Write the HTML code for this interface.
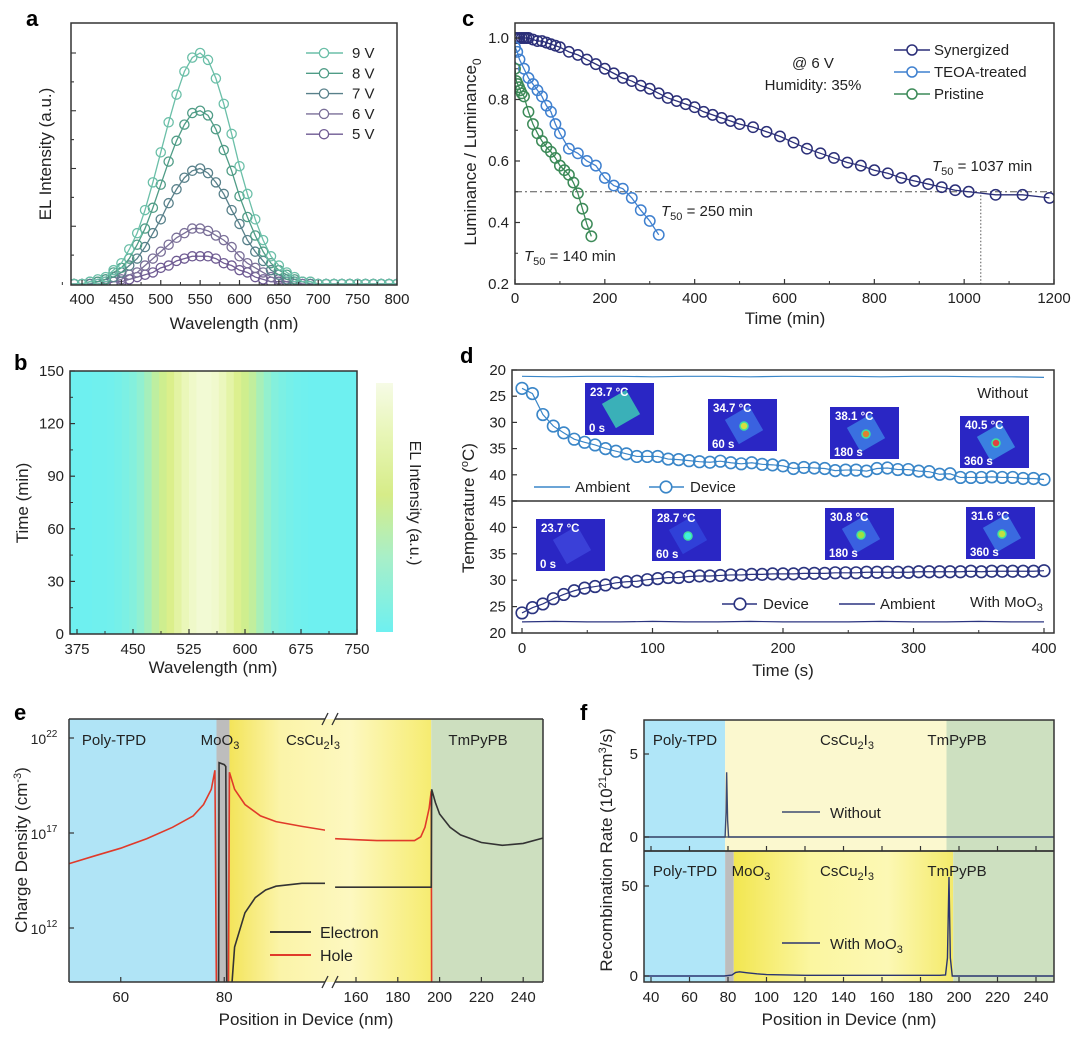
<!DOCTYPE html>
<html><head><meta charset="utf-8"><style>
html,body{margin:0;padding:0;background:#fff}
svg{display:block;font-family:"Liberation Sans",Arial,sans-serif}
</style></head><body>
<svg id="fig" width="1080" height="1038" viewBox="0 0 1080 1038" xmlns="http://www.w3.org/2000/svg">
<defs>
<clipPath id="clipA"><rect x="71" y="23" width="326" height="262"/></clipPath>
<clipPath id="clipC"><rect x="515" y="23" width="539" height="261"/></clipPath>
<clipPath id="clipEL"><rect x="69" y="719" width="256" height="263"/></clipPath>
<clipPath id="clipER"><rect x="335" y="719" width="208" height="263"/></clipPath>
<clipPath id="clipFT"><rect x="644" y="720" width="410" height="131"/></clipPath>
<clipPath id="clipFB"><rect x="644" y="851" width="410" height="131"/></clipPath>
<linearGradient id="eYellow" x1="0" x2="1" y1="0" y2="0">
<stop offset="0" stop-color="#f3e45a"/><stop offset="0.25" stop-color="#fbf4a8"/><stop offset="0.6" stop-color="#fdf8c0"/><stop offset="1" stop-color="#f6ec70"/></linearGradient>
<linearGradient id="fYellow" x1="0" x2="1" y1="0" y2="0">
<stop offset="0" stop-color="#f2e650"/><stop offset="0.35" stop-color="#fbf6a0"/><stop offset="0.7" stop-color="#fcf8b4"/><stop offset="1" stop-color="#f4ea6a"/></linearGradient>
<linearGradient id="cbar" x1="0" x2="0" y1="1" y2="0">
<stop offset="0" stop-color="#6ef0f0"/><stop offset="0.3" stop-color="#a8efc8"/><stop offset="0.55" stop-color="#d6ec88"/><stop offset="0.8" stop-color="#e8f6b8"/><stop offset="1" stop-color="#f6fbe6"/></linearGradient>
</defs>

<text x="26" y="26" font-size="22" font-weight="bold">a</text>
<text x="14" y="370" font-size="22" font-weight="bold">b</text>
<text x="462" y="26" font-size="22" font-weight="bold">c</text>
<text x="460" y="363" font-size="22" font-weight="bold">d</text>
<text x="14" y="720" font-size="22" font-weight="bold">e</text>
<text x="580" y="720" font-size="22" font-weight="bold">f</text>

<g id="pa">
<text x="234" y="329" font-size="17" text-anchor="middle" fill="#222">Wavelength (nm)</text>
<text transform="translate(51,154) rotate(-90)" font-size="17" text-anchor="middle" fill="#222">EL Intensity (a.u.)</text>
</g>
<g id="pb">
<text x="213" y="673" font-size="17" text-anchor="middle" fill="#222">Wavelength (nm)</text>
<text transform="translate(28,503) rotate(-90)" font-size="17" text-anchor="middle" fill="#222">Time (min)</text>
<rect x="376" y="383" width="17" height="249" fill="url(#cbar)"/>
<text transform="translate(410,503) rotate(90)" font-size="16" text-anchor="middle" fill="#222">EL Intensity (a.u.)</text>
<text x="347" y="624" font-size="15" text-anchor="end" fill="#222">@ 6 V</text>
</g>
<g id="pc">
<text x="785" y="324" font-size="17" text-anchor="middle" fill="#222">Time (min)</text>
<text transform="translate(476,152) rotate(-90)" font-size="17" text-anchor="middle" fill="#222">Luminance / Luminance<tspan font-size="12" dy="5">0</tspan></text>
<text x="813" y="68" font-size="15" text-anchor="middle" fill="#222">@ 6 V</text>
<text x="813" y="90" font-size="15" text-anchor="middle" fill="#222">Humidity: 35%</text>
<text x="932" y="171" font-size="15" fill="#222"><tspan font-style="italic">T</tspan><tspan font-size="11" dy="4">50</tspan><tspan dy="-4"> = 1037 min</tspan></text>
<text x="661" y="216" font-size="15" fill="#222"><tspan font-style="italic">T</tspan><tspan font-size="11" dy="4">50</tspan><tspan dy="-4"> = 250 min</tspan></text>
<text x="524" y="261" font-size="15" fill="#222"><tspan font-style="italic">T</tspan><tspan font-size="11" dy="4">50</tspan><tspan dy="-4"> = 140 min</tspan></text>
<text x="934" y="55" font-size="15" fill="#222">Synergized</text>
<text x="934" y="77" font-size="15" fill="#222">TEOA-treated</text>
<text x="934" y="99" font-size="15" fill="#222">Pristine</text>
</g>
<g id="pd">
<text x="783" y="676" font-size="17" text-anchor="middle" fill="#222">Time (s)</text>
<text transform="translate(474,508) rotate(-90)" font-size="17" text-anchor="middle" fill="#222">Temperature (<tspan font-size="11" dy="-6">o</tspan><tspan dy="6">C)</tspan></text>
<text x="1028" y="398" font-size="15" text-anchor="end" fill="#222">Without</text>
<text x="575" y="492" font-size="15" fill="#222">Ambient</text>
<text x="690" y="492" font-size="15" fill="#222">Device</text>
<text x="763" y="609" font-size="15" fill="#222">Device</text>
<text x="880" y="609" font-size="15" fill="#222">Ambient</text>
<text x="970" y="607" font-size="15" fill="#222">With MoO<tspan font-size="11" dy="4">3</tspan></text>
</g>
<g id="pe"></g>
<g id="pf"></g>
</svg>

<script>
// ---------- DATA ----------
const aWavelengths = [380,390,400,410,420,430,440,450,460,470,480,490,500,510,520,530,540,550,560,570,580,590,600,610,620,630,640,650,660,670,680,690,700,710,720,730,740,750,760,770,780,790,800];
const aSeriesLabels = ['9 V','8 V','7 V','6 V','5 V'];
const a9V = [0.00,0.00,0.00,0.01,0.02,0.03,0.06,0.09,0.15,0.22,0.32,0.44,0.57,0.70,0.82,0.92,0.98,1.00,0.97,0.89,0.78,0.65,0.51,0.39,0.28,0.19,0.12,0.08,0.05,0.03,0.01,0.01,0,0,0,0,0,0,0,0,0,0,0];
const a8V = [0,0,0,0.01,0.01,0.02,0.05,0.07,0.11,0.17,0.24,0.33,0.43,0.53,0.62,0.69,0.74,0.75,0.73,0.67,0.58,0.49,0.38,0.29,0.21,0.14,0.09,0.06,0.04,0.02,0.01,0.01,0,0,0,0,0,0,0,0,0,0,0];
const a7V = [0,0,0,0,0.01,0.02,0.03,0.05,0.08,0.11,0.16,0.22,0.28,0.35,0.41,0.46,0.49,0.50,0.48,0.44,0.39,0.32,0.26,0.19,0.14,0.10,0.06,0.04,0.02,0.01,0.01,0,0,0,0,0,0,0,0,0,0,0,0];
const a6V = [0,0,0,0,0,0.01,0.01,0.02,0.04,0.05,0.08,0.11,0.14,0.17,0.20,0.22,0.24,0.24,0.23,0.21,0.19,0.16,0.12,0.09,0.07,0.05,0.03,0.02,0.01,0.01,0,0,0,0,0,0,0,0,0,0,0,0,0];
const a5V = [0,0,0,0,0,0,0.01,0.01,0.02,0.03,0.04,0.05,0.07,0.08,0.10,0.11,0.12,0.12,0.12,0.11,0.09,0.08,0.06,0.05,0.03,0.02,0.01,0.01,0.01,0,0,0,0,0,0,0,0,0,0,0,0,0,0];
const aXTicks = [400,450,500,550,600,650,700,750,800];

const bWavelengths = [370,380,390,400,410,420,430,440,450,460,470,480,490,500,510,520,530,540,550,560,570,580,590,600,610,620,630,640,650,660,670,680,690,700,710,720,730,740,750];
const bIntensity = [0,0,0,0.01,0.01,0.02,0.04,0.07,0.11,0.17,0.25,0.35,0.47,0.59,0.72,0.84,0.93,0.99,0.99,0.95,0.86,0.74,0.61,0.48,0.37,0.26,0.18,0.11,0.07,0.04,0.02,0.01,0,0,0,0,0,0,0];
const bTimes = [0,30,60,90,120,150];
const bXTicks = [375,450,525,600,675,750];

const cSynT = [0,5,10,15,20,25,30,40,50,60,70,80,90,100,120,140,160,180,200,220,240,260,280,300,320,340,360,380,400,420,440,460,480,500,530,560,590,620,650,680,710,740,770,800,830,860,890,920,950,980,1010,1070,1130,1190];
const cSynV = [1,1,1,1,1,1,1,0.995,0.99,0.99,0.985,0.98,0.975,0.97,0.955,0.945,0.93,0.915,0.90,0.885,0.87,0.86,0.845,0.835,0.82,0.805,0.795,0.785,0.775,0.76,0.75,0.74,0.73,0.72,0.71,0.695,0.68,0.66,0.64,0.625,0.61,0.595,0.585,0.57,0.56,0.545,0.535,0.525,0.515,0.505,0.50,0.49,0.49,0.48];
const cTeoaT = [0,5,10,20,30,40,50,60,70,80,90,100,120,140,160,180,200,220,240,260,280,300,320];
const cTeoaV = [0.97,0.955,0.93,0.90,0.87,0.85,0.83,0.81,0.78,0.76,0.72,0.69,0.64,0.625,0.60,0.585,0.545,0.52,0.51,0.48,0.44,0.405,0.36];
const cPriT = [0,3,6,9,12,15,20,30,40,50,60,70,80,90,100,110,120,130,140,150,160,170];
const cPriV = [0.90,0.86,0.85,0.84,0.83,0.82,0.81,0.76,0.72,0.69,0.665,0.645,0.63,0.61,0.585,0.57,0.555,0.53,0.495,0.445,0.395,0.355];
const cT50Syn = 1037;
const cXTicks = [0,200,400,600,800,1000,1200];
const cYTicks = [0.2,0.4,0.6,0.8,1.0];

const dTimes = [0,8,16,24,32,40,48,56,64,72,80,88,96,104,112,120,128,136,144,152,160,168,176,184,192,200,208,216,224,232,240,248,256,264,272,280,288,296,304,312,320,328,336,344,352,360,368,376,384,392,400];
const dWithout = [23.5,24.5,28.5,30.7,32,33.2,33.8,34.3,35,35.5,36,36.5,36.5,36.5,37,37.1,37.3,37.5,37.6,37.4,37.7,37.9,37.7,38,38.1,38.3,38.8,38.6,38.7,38.8,39.2,39.1,39.1,39.3,38.8,38.7,39,39,39.3,39.4,39.9,39.8,40.5,40.5,40.5,40.4,40.5,40.5,40.7,40.7,40.9];
const dWithMoO3 = [23.8,24.8,25.5,26.5,27.3,28,28.5,28.8,29.1,29.5,29.7,29.8,30.1,30.3,30.5,30.5,30.7,30.8,30.8,30.9,31,31,31.1,31.1,31.2,31.2,31.2,31.3,31.3,31.3,31.4,31.4,31.4,31.5,31.5,31.5,31.5,31.5,31.6,31.6,31.6,31.6,31.6,31.7,31.6,31.7,31.7,31.7,31.7,31.7,31.8];
const dAmbT = [0,25,50,75,100,125,150,175,200,225,250,275,300,325,350,375,400];
const dAmbWithout = [21.2,21.3,21.2,21.2,21.3,21.2,21.2,21.3,21.2,21.2,21.2,21.3,21.2,21.2,21.3,21.3,21.4];
const dAmbWith = [22.1,22.2,22.1,22.1,22.2,22.1,22.1,22.2,22.1,22.1,22.1,22.2,22.1,22.1,22.2,22.1,22.1];
const dXTicks = [0,100,200,300,400];
const dYTicks = [20,25,30,35,40,45];

const eHoleLPos = [49,55,60,65,70,74,76,77.5,78.2,78.5,80.8,81.0,82,84,87,90,95,99.5];
const eHoleLLog = [15.3,15.8,16.2,16.7,17.3,17.9,18.5,19.3,20.3,8,8,20.2,19.3,18.5,17.9,17.6,17.35,17.15];
const eHoleRPos = [150,160,170,180,188,191,193,195,196,196.2];
const eHoleRLog = [16.7,16.65,16.6,16.6,16.6,16.8,17.3,18.3,19.2,8];
const eElecLPos = [78.9,79,80,80.3,80.5,81.2,82,84,86,88,90,95,99.5];
const eElecLLog = [8,20.7,20.6,20.5,8,8,11,12.8,13.6,14.0,14.2,14.35,14.35];
const eElecRPos = [150,196,196.2,198,200,205,210,220,230,240,250];
const eElecRLog = [14.15,14.15,19.3,18.6,18.0,17.3,16.9,16.5,16.35,16.45,16.75];
const eXTicksL = [60,80];
const eXTicksR = [160,180,200,220,240];
const eYTicks = [22,17,12];

const fTopPos = [36,78.5,79.0,79.3,79.8,80.3,249];
const fTopVal = [0,0,1.5,3.9,1.0,0,0];
const fBotPos = [36,78,82,84,86,90,95,100,120,190,193,194,194.8,195.5,196.5,249];
const fBotVal = [0,0,0.5,2.0,2.3,1.8,1.2,0.8,0.4,0.4,0.6,10,55,10,0,0];
const fXTicks = [40,60,80,100,120,140,160,180,200,220,240];

// ---------- HELPERS ----------
const NS = 'http://www.w3.org/2000/svg';
const svg = document.getElementById('fig');
function mk(tag, attrs, parent){
  const e = document.createElementNS(NS, tag);
  for (const k in attrs) e.setAttribute(k, attrs[k]);
  (parent || svg).appendChild(e);
  return e;
}
function pathD(xs, ys){ return xs.map((x,i)=>(i?'L':'M')+x.toFixed(2)+','+ys[i].toFixed(2)).join(' '); }

// ---------- PANEL A ----------
(function(){
  const g = document.getElementById('pa');
  const xa = l => 71 + (l-386)*0.7874;
  const ya = v => 284 - v*231;
  const series = [a5V,a6V,a7V,a8V,a9V];
  const names = ['5v','6v','7v','8v','9v'];
  const cols = ['#6e5a92','#7a6f98','#58808a','#4f9c86','#6bbfa8'];
  const cg = mk('g',{'clip-path':'url(#clipA)'},g);
  series.forEach((s,si)=>{
    const p = mk('path',{d:pathD(aWavelengths.map(xa), s.map(ya)),fill:'none',stroke:cols[si],'stroke-width':1.3},cg);
    
    
    aWavelengths.forEach((w,i)=>{
      const c = mk('circle',{cx:xa(w),cy:ya(s[i]),r:4.6,fill:'none',stroke:cols[si],'stroke-width':1.3},cg);
      
      
    });
  });
  const box = mk('rect',{x:71,y:23,width:326,height:262,fill:'none',stroke:'#333','stroke-width':1.5},g);
  
  
  aXTicks.forEach(t=>{
    const tk = mk('line',{x1:xa(t),x2:xa(t),y1:285,y2:280,stroke:'#333','stroke-width':1.2},g);
    
    
    const m = mk('line',{x1:xa(t-25),x2:xa(t-25),y1:285,y2:282,stroke:'#333','stroke-width':1},g);
    
    
    const tl = mk('text',{x:xa(t),y:304,'font-size':15,'text-anchor':'middle',fill:'#222'},g);
    tl.textContent = t;
    
    
  });
  [0.125,0.25,0.375,0.5,0.625,0.75,0.875,1.0].forEach((v,i)=>{
    const tk = mk('line',{x1:71,x2:(i%2)?76:74,y1:ya(v),y2:ya(v),stroke:'#333','stroke-width':1.1},g);
    
    
  });
  const legCols = ['#6bbfa8','#4f9c86','#58808a','#7a6f98','#6e5a92'];
  aSeriesLabels.forEach((lab,i)=>{
    const y = 53 + i*20.3;
    const l = mk('line',{x1:306,x2:343,y1:y,y2:y,stroke:legCols[i],'stroke-width':1.4},g);
    
    
    const c = mk('circle',{cx:324,cy:y,r:4.6,fill:'#fff',stroke:legCols[i],'stroke-width':1.3},g);
    
    
    const t = mk('text',{x:352,y:y+5,'font-size':15,fill:'#222'},g);
    t.textContent = lab;
    
    
  });
})();

// ---------- PANEL B ----------
(function(){
  const g = document.getElementById('pb');
  const xb = l => 77 + (l-375)*0.7467;
  const yb = t => 634 - t*(263/150);
  const stops = [[0,[110,240,240]],[0.15,[140,240,214]],[0.35,[190,238,160]],[0.55,[216,238,132]],[0.8,[232,246,178]],[1,[242,250,214]]];
  function cmap(v){
    for (let i=1;i<stops.length;i++){
      if (v<=stops[i][0]){
        const a=stops[i-1],b=stops[i],f=(v-a[0])/(b[0]-a[0]);
        const c=a[1].map((x,k)=>Math.round(x+(b[1][k]-x)*f));
        return 'rgb('+c.join(',')+')';
      }
    }
    return 'rgb(242,250,214)';
  }
  const cg = mk('g',{},g);
  bWavelengths.forEach((w,i)=>{
    const x0 = Math.max(70, xb(w-5)), x1 = Math.min(357, xb(w+5));
    if (x1<=x0) return;
    const r = mk('rect',{x:x0,y:yb(150),width:x1-x0+0.6,height:yb(0)-yb(150),fill:cmap(bIntensity[i])},cg);
    
    
  });
  const box = mk('rect',{x:70,y:371,width:287,height:263,fill:'none',stroke:'#333','stroke-width':1.5},g);
  
  
  bXTicks.forEach(t=>{
    const tk = mk('line',{x1:xb(t),x2:xb(t),y1:634,y2:629,stroke:'#333','stroke-width':1.2},g);
    
    
    if (t<750){
      const m = mk('line',{x1:xb(t+37.5),x2:xb(t+37.5),y1:634,y2:631,stroke:'#333','stroke-width':1},g);
      
      
    }
    const tl = mk('text',{x:xb(t),y:654,'font-size':15,'text-anchor':'middle',fill:'#222'},g);
    tl.textContent = t;
    
    
  });
  bTimes.forEach(t=>{
    const tk = mk('line',{x1:70,x2:75,y1:yb(t),y2:yb(t),stroke:'#333','stroke-width':1.2},g);
    
    
    if (t<150){
      const m = mk('line',{x1:70,x2:73,y1:yb(t+15),y2:yb(t+15),stroke:'#333','stroke-width':1},g);
      
      
    }
    const tl = mk('text',{x:64,y:yb(t)+5,'font-size':15,'text-anchor':'end',fill:'#222'},g);
    tl.textContent = t;
    
    
  });
})();

// ---------- PANEL C ----------
(function(){
  const g = document.getElementById('pc');
  const xc = t => 515 + t*(539/1200);
  const yc = v => 284 - (v-0.2)*(246/0.8);
  const dl = mk('line',{x1:515,x2:1054,y1:yc(0.5),y2:yc(0.5),stroke:'#555','stroke-width':1,'stroke-dasharray':'7,3,2,3'},g);
  
  
  const vl = mk('line',{x1:xc(cT50Syn),x2:xc(cT50Syn),y1:yc(0.5),y2:284,stroke:'#555','stroke-width':1,'stroke-dasharray':'1.5,2'},g);
  
  
  const cg = mk('g',{'clip-path':'url(#clipC)'},g);
  const sets = [[cSynT,cSynV,'#2b2f78','synergized'],[cTeoaT,cTeoaV,'#3f80cf','teoa-treated'],[cPriT,cPriV,'#3c8a58','pristine']];
  sets.forEach(s=>{
    const p = mk('path',{d:pathD(s[0].map(xc), s[1].map(yc)),fill:'none',stroke:s[2],'stroke-width':1.3},cg);
    
    
    s[0].forEach((t,i)=>{
      const c = mk('circle',{cx:xc(t),cy:yc(s[1][i]),r:5.2,fill:'none',stroke:s[2],'stroke-width':1.5},cg);
      
      
    });
  });
  const box = mk('rect',{x:515,y:23,width:539,height:261,fill:'none',stroke:'#333','stroke-width':1.5},g);
  
  
  cXTicks.forEach(t=>{
    const tk = mk('line',{x1:xc(t),x2:xc(t),y1:284,y2:279,stroke:'#333','stroke-width':1.2},g);
    
    
    if (t<1200){
      const m = mk('line',{x1:xc(t+100),x2:xc(t+100),y1:284,y2:281,stroke:'#333','stroke-width':1},g);
      
      
    }
    const tl = mk('text',{x:xc(t),y:303,'font-size':15,'text-anchor':'middle',fill:'#222'},g);
    tl.textContent = t;
    
    
  });
  cYTicks.forEach(v=>{
    const tk = mk('line',{x1:515,x2:520,y1:yc(v),y2:yc(v),stroke:'#333','stroke-width':1.2},g);
    
    
    if (v<1.0){
      const m = mk('line',{x1:515,x2:518,y1:yc(v+0.1),y2:yc(v+0.1),stroke:'#333','stroke-width':1},g);
      
      
    }
    const tl = mk('text',{x:509,y:yc(v)+5,'font-size':15,'text-anchor':'end',fill:'#222'},g);
    tl.textContent = v.toFixed(1);
    
    
  });
  [['#2b2f78',50],['#3f80cf',72],['#3c8a58',94]].forEach(s=>{
    const l = mk('line',{x1:894,x2:930,y1:s[1],y2:s[1],stroke:s[0],'stroke-width':1.4},g);
    
    
    const c = mk('circle',{cx:912,cy:s[1],r:5,fill:'#fff',stroke:s[0],'stroke-width':1.5},g);
    
    
  });
})();

// ---------- PANEL D ----------
(function(){
  const g = document.getElementById('pd');
  const xd = t => 522 + t*(522/400);
  const yT = T => 370 + (T-20)*(131/25);
  const yB = T => 633 - (T-20)*(132/25);
  const topC = '#3a86c8', botC = '#2b3480';
  const a1 = mk('path',{d:pathD(dAmbT.map(xd), dAmbWithout.map(yT)),fill:'none',stroke:topC,'stroke-width':1.2},g);
  
  
  const a2 = mk('path',{d:pathD(dAmbT.map(xd), dAmbWith.map(yB)),fill:'none',stroke:botC,'stroke-width':1.2},g);
  
  
  const p1 = mk('path',{d:pathD(dTimes.map(xd), dWithout.map(yT)),fill:'none',stroke:topC,'stroke-width':1.2},g);
  
  
  const p2 = mk('path',{d:pathD(dTimes.map(xd), dWithMoO3.map(yB)),fill:'none',stroke:botC,'stroke-width':1.2},g);
  
  
  dTimes.forEach((t,i)=>{
    const c1 = mk('circle',{cx:xd(t),cy:yT(dWithout[i]),r:5.8,fill:'none',stroke:topC,'stroke-width':1.6},g);
    
    
    const c2 = mk('circle',{cx:xd(t),cy:yB(dWithMoO3[i]),r:5.8,fill:'none',stroke:botC,'stroke-width':1.6},g);
    
    
  });
  const insets = [
    [585,383,'23.7 °C','0 s','#3ab0b8',null],[708,399,'34.7 °C','60 s','#3a62e0','#d4e040'],
    [830,407,'38.1 °C','180 s','#3a70e0','#e08030'],[960,416,'40.5 °C','360 s','#3a80e0','#e04040'],
    [536,519,'23.7 °C','0 s','#3a40d8',null],[652,509,'28.7 °C','60 s','#3040d8','#40f0e0'],
    [825,508,'30.8 °C','180 s','#3a60e0','#a0e040'],[966,507,'31.6 °C','360 s','#3a6ae0','#c0e040']];
  insets.forEach(s=>{
    const ig = mk('g',{},g);
    
    
    const bg = mk('rect',{x:s[0],y:s[1],width:69,height:52,fill:'#2a26c4'},ig);
    
    
    const dv = mk('rect',{x:s[0]+22,y:s[1]+12,width:28,height:28,fill:s[4],transform:'rotate(-30 '+(s[0]+36)+' '+(s[1]+26)+')'},ig);
    
    
    if (s[5]){
      const sp = mk('circle',{cx:s[0]+36,cy:s[1]+27,r:4,fill:s[5],stroke:'#40e0a0','stroke-width':1.5},ig);
      
      
    }
    const t1 = mk('text',{x:s[0]+5,y:s[1]+13,'font-size':11.5,'font-weight':'bold',fill:'#fff'},ig);
    t1.textContent = s[2];
    
    
    const t2 = mk('text',{x:s[0]+4,y:s[1]+49,'font-size':11.5,'font-weight':'bold',fill:'#fff'},ig);
    t2.textContent = s[3];
    
    
  });
  const box = mk('rect',{x:512,y:370,width:542,height:263,fill:'none',stroke:'#333','stroke-width':1.5},g);
  
  
  const dv = mk('line',{x1:512,x2:1054,y1:501,y2:501,stroke:'#333','stroke-width':1.5},g);
  
  
  dXTicks.forEach(t=>{
    const tk = mk('line',{x1:xd(t),x2:xd(t),y1:633,y2:628,stroke:'#333','stroke-width':1.2},g);
    
    
    if (t<400){
      const m = mk('line',{x1:xd(t+50),x2:xd(t+50),y1:633,y2:630,stroke:'#333','stroke-width':1},g);
      
      
    }
    const tl = mk('text',{x:xd(t),y:653,'font-size':15,'text-anchor':'middle',fill:'#222'},g);
    tl.textContent = t;
    
    
  });
  dYTicks.forEach(v=>{
    const a = mk('line',{x1:512,x2:517,y1:yT(v),y2:yT(v),stroke:'#333','stroke-width':1.2},g);
    
    
    const b = mk('line',{x1:512,x2:517,y1:yB(v),y2:yB(v),stroke:'#333','stroke-width':1.2},g);
    
    
    if (v<45){
      const t1 = mk('text',{x:506,y:yT(v)+5,'font-size':15,'text-anchor':'end',fill:'#222'},g);
      t1.textContent = v;
      
      
    }
    const t2 = mk('text',{x:506,y:yB(v)+5,'font-size':15,'text-anchor':'end',fill:'#222'},g);
    t2.textContent = v;
    
    
  });
  const l1 = mk('line',{x1:534,x2:570,y1:487,y2:487,stroke:topC,'stroke-width':1.4},g);
  
  
  const l2 = mk('line',{x1:649,x2:684,y1:487,y2:487,stroke:topC,'stroke-width':1.4},g);
  
  
  const m2 = mk('circle',{cx:666,cy:487,r:5.8,fill:'#fff',stroke:topC,'stroke-width':1.6},g);
  
  
  const l3 = mk('line',{x1:722,x2:757,y1:604,y2:604,stroke:botC,'stroke-width':1.4},g);
  
  
  const m3 = mk('circle',{cx:740,cy:604,r:5.8,fill:'#fff',stroke:botC,'stroke-width':1.6},g);
  
  
  const l4 = mk('line',{x1:839,x2:875,y1:604,y2:604,stroke:botC,'stroke-width':1.4},g);
  
  
})();

// ---------- PANEL E ----------
(function(){
  const g = document.getElementById('pe');
  const xL = p => 69 + (p-50)*5.175;
  const xR = p => 356 + (p-160)*2.09;
  const ye = lg => 833 - (lg-17)*19;
  const T=719, B=982;
  function reg(x0,x1,fill,name){
    const r = mk('rect',{x:x0,y:T,width:x1-x0,height:B-T,fill:fill},g);
    
    
  }
  reg(69,xL(78.5),'#b0e4f6','e-region-poly-tpd');
  reg(xL(81),xR(196),'url(#eYellow)','e-region-cscu2i3');
  reg(xL(78.5),xL(81),'#bdbdbd','e-region-moo3');
  reg(xR(196),543,'#cddfbf','e-region-tmpypb');
  const cl = mk('g',{'clip-path':'url(#clipEL)'},g);
  const cr = mk('g',{'clip-path':'url(#clipER)'},g);
  const curves = [
    [cl,eHoleLPos.map(xL),eHoleLLog.map(ye),'#e03a2a','e-hole-curve-left'],
    [cr,eHoleRPos.map(xR),eHoleRLog.map(ye),'#e03a2a','e-hole-curve-right'],
    [cl,eElecLPos.map(xL),eElecLLog.map(ye),'#333','e-electron-curve-left'],
    [cr,eElecRPos.map(xR),eElecRLog.map(ye),'#333','e-electron-curve-right']];
  curves.forEach(c=>{
    const p = mk('path',{d:pathD(c[1],c[2]),fill:'none',stroke:c[3],'stroke-width':1.6},c[0]);
    
    
  });
  [[69,325],[335,543]].forEach(s=>{
    const a = mk('line',{x1:s[0],x2:s[1],y1:T,y2:T,stroke:'#333','stroke-width':1.5},g);
    
    
    const b = mk('line',{x1:s[0],x2:s[1],y1:B,y2:B,stroke:'#333','stroke-width':1.5},g);
    
    
  });
  [[325,T],[335,T],[325,B],[335,B]].forEach(p=>{
    const b = mk('line',{x1:p[0]-3,x2:p[0]+3,y1:p[1]+6,y2:p[1]-6,stroke:'#333','stroke-width':1.3},g);
    
    
  });
  const lf = mk('line',{x1:69,x2:69,y1:T,y2:B,stroke:'#333','stroke-width':1.5},g);
  
  
  const rf = mk('line',{x1:543,x2:543,y1:T,y2:B,stroke:'#333','stroke-width':1.5},g);
  
  
  eXTicksL.forEach(t=>{
    const tk = mk('line',{x1:xL(t),x2:xL(t),y1:B,y2:B-5,stroke:'#333','stroke-width':1.2},g);
    
    
    const tl = mk('text',{x:xL(t),y:1002,'font-size':15,'text-anchor':'middle',fill:'#222'},g);
    tl.textContent = t;
    
    
  });
  eXTicksR.forEach(t=>{
    const tk = mk('line',{x1:xR(t),x2:xR(t),y1:B,y2:B-5,stroke:'#333','stroke-width':1.2},g);
    
    
    const tl = mk('text',{x:xR(t),y:1002,'font-size':15,'text-anchor':'middle',fill:'#222'},g);
    tl.textContent = t;
    
    
  });
  eYTicks.forEach(v=>{
    const tk = mk('line',{x1:69,x2:74,y1:ye(v),y2:ye(v),stroke:'#333','stroke-width':1.2},g);
    
    
    const tl = mk('text',{x:44,y:ye(v)+6,'font-size':14,'text-anchor':'middle',fill:'#222'},g);
    
    
    const b = mk('tspan',{},tl); b.textContent='10';
    const s = mk('tspan',{'font-size':10,dy:-7}, tl); s.textContent = v;
  });
  const txt = [[114,745,'Poly-TPD','e-label-poly-tpd'],[478,745,'TmPyPB','e-label-tmpypb']];
  txt.forEach(t=>{
    const e = mk('text',{x:t[0],y:t[1],'font-size':15,'text-anchor':'middle',fill:'#222'},g);
    e.textContent=t[2];
    
    
  });
  const mo = mk('text',{x:220,y:745,'font-size':15,'text-anchor':'middle',fill:'#222'},g);
  
  
  mo.innerHTML = 'MoO<tspan font-size="11" dy="4">3</tspan>';
  const cs = mk('text',{x:313,y:745,'font-size':15,'text-anchor':'middle',fill:'#222'},g);
  
  
  cs.innerHTML = 'CsCu<tspan font-size="11" dy="4">2</tspan><tspan dy="-4">I</tspan><tspan font-size="11" dy="4">3</tspan>';
  [[932,'#333','Electron'],[955,'#e03a2a','Hole']].forEach(s=>{
    const l = mk('line',{x1:270,x2:311,y1:s[0],y2:s[0],stroke:s[1],'stroke-width':2},g);
    
    
    const t = mk('text',{x:320,y:s[0]+6,'font-size':16,fill:'#222'},g);
    t.textContent = s[2];
    
    
  });
  const xt = mk('text',{x:306,y:1025,'font-size':17,'text-anchor':'middle',fill:'#222'},g);
  xt.textContent = 'Position in Device (nm)';
  
  
  const yt = mk('text',{'font-size':17,'text-anchor':'middle',fill:'#222',transform:'translate(27,850) rotate(-90)'},g);
  
  
  yt.innerHTML = 'Charge Density (cm<tspan font-size="11" dy="-6">-3</tspan><tspan dy="6">)</tspan>';
})();

// ---------- PANEL F ----------
(function(){
  const g = document.getElementById('pf');
  const xf = p => 651 + (p-40)*1.925;
  const yT = v => 837 - v*16.6;
  const yB = v => 976 - v*1.8;
  function reg(x0,x1,y0,y1,fill,name){
    const r = mk('rect',{x:x0,y:y0,width:x1-x0,height:y1-y0,fill:fill},g);
    
    
  }
  reg(644,xf(78.5),720,851,'#b0e6f8','f-top-region-poly-tpd');
  reg(xf(78.5),xf(193.5),720,851,'#fbf8cf','f-top-region-cscu2i3');
  reg(xf(193.5),1054,720,851,'#cde0c0','f-top-region-tmpypb');
  reg(644,xf(78.5),851,982,'#b0e6f8','f-bottom-region-poly-tpd');
  reg(xf(78.5),xf(83),851,982,'#bdbdbd','f-bottom-region-moo3');
  reg(xf(83),xf(197),851,982,'url(#fYellow)','f-bottom-region-cscu2i3');
  reg(xf(197),1054,851,982,'#cde0c0','f-bottom-region-tmpypb');
  const b1 = mk('line',{x1:644,x2:1054,y1:yT(0),y2:yT(0),stroke:'#3d5566','stroke-width':1.2},g);
  
  
  const ct = mk('g',{'clip-path':'url(#clipFT)'},g);
  const p1 = mk('path',{d:pathD(fTopPos.map(xf), fTopVal.map(yT)),fill:'none',stroke:'#3d4a70','stroke-width':1.4},ct);
  
  
  const cb = mk('g',{'clip-path':'url(#clipFB)'},g);
  const p2 = mk('path',{d:pathD(fBotPos.map(xf), fBotVal.map(yB)),fill:'none',stroke:'#2a3470','stroke-width':1.4},cb);
  
  
  const box = mk('rect',{x:644,y:720,width:410,height:262,fill:'none',stroke:'#333','stroke-width':1.5},g);
  
  
  const dv = mk('line',{x1:644,x2:1054,y1:851,y2:851,stroke:'#333','stroke-width':1.8},g);
  
  
  fXTicks.forEach(t=>{
    [851,982].forEach(yy=>{
      const tk = mk('line',{x1:xf(t),x2:xf(t),y1:yy,y2:yy-5,stroke:'#333','stroke-width':1.2},g);
      
      
    });
    const tl = mk('text',{x:xf(t),y:1002,'font-size':15,'text-anchor':'middle',fill:'#222'},g);
    tl.textContent = t;
    
    
  });
  [[0,yT(0)],[5,yT(5)],[0,yB(0)],[50,yB(50)]].forEach(s=>{
    const tk = mk('line',{x1:644,x2:649,y1:s[1],y2:s[1],stroke:'#333','stroke-width':1.2},g);
    
    
    const tl = mk('text',{x:638,y:s[1]+5,'font-size':15,'text-anchor':'end',fill:'#222'},g);
    tl.textContent = s[0];
    
    
  });
  function lbl(x,y,html,name){
    const t = mk('text',{x:x,y:y,'font-size':15,'text-anchor':'middle',fill:'#222'},g);
    t.innerHTML = html;
    
    
  }
  const cs = 'CsCu<tspan font-size="11" dy="4">2</tspan><tspan dy="-4">I</tspan><tspan font-size="11" dy="4">3</tspan>';
  lbl(685,745,'Poly-TPD','f-top-label-poly-tpd');
  lbl(847,745,cs,'f-top-label-cscu2i3');
  lbl(957,745,'TmPyPB','f-top-label-tmpypb');
  lbl(685,876,'Poly-TPD','f-bottom-label-poly-tpd');
  lbl(751,876,'MoO<tspan font-size="11" dy="4">3</tspan>','f-bottom-label-moo3');
  lbl(847,876,cs,'f-bottom-label-cscu2i3');
  lbl(957,876,'TmPyPB','f-bottom-label-tmpypb');
  [[812,'#3d4a70','Without','f-legend-without'],[943,'#2a3470','With MoO<tspan font-size="11" dy="4">3</tspan>','f-legend-with-moo3']].forEach(s=>{
    const l = mk('line',{x1:782,x2:820,y1:s[0],y2:s[0],stroke:s[1],'stroke-width':1.6},g);
    
    
    const t = mk('text',{x:830,y:s[0]+6,'font-size':15,fill:'#222'},g);
    t.innerHTML = s[2];
    
    
  });
  const xt = mk('text',{x:849,y:1025,'font-size':17,'text-anchor':'middle',fill:'#222'},g);
  xt.textContent = 'Position in Device (nm)';
  
  
  const yt = mk('text',{'font-size':17,'text-anchor':'middle',fill:'#222',transform:'translate(612,850) rotate(-90)'},g);
  
  
  yt.innerHTML = 'Recombination Rate (10<tspan font-size="11" dy="-6">21</tspan><tspan dy="6">cm</tspan><tspan font-size="11" dy="-6">3</tspan><tspan dy="6">/s)</tspan>';
})();
</script>
</body></html>
